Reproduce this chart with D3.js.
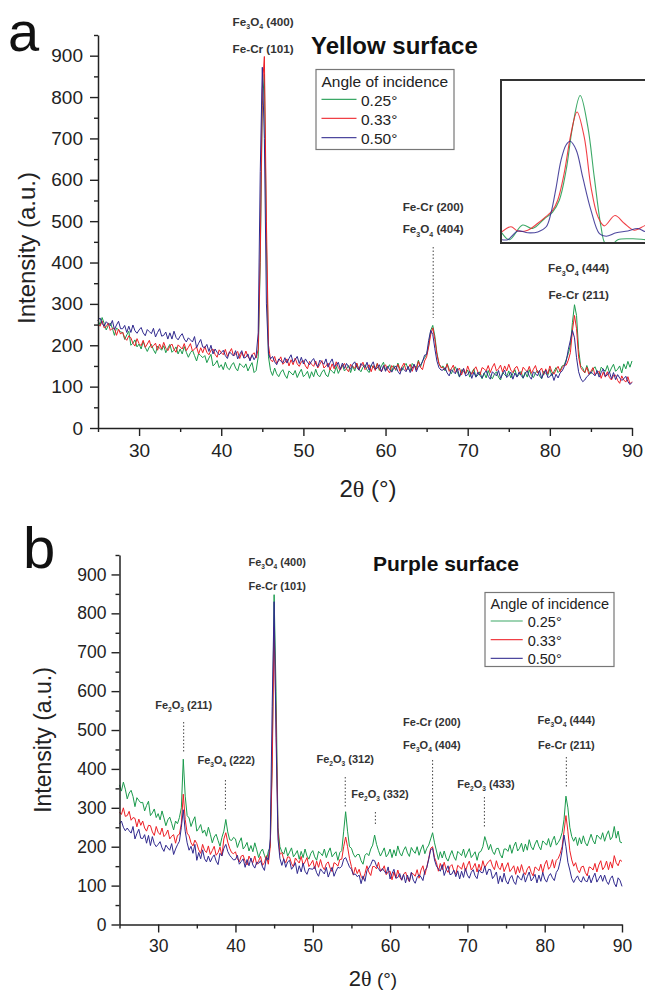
<!DOCTYPE html>
<html><head><meta charset="utf-8">
<script src="https://cdn.jsdelivr.net/npm/d3@7"></script>
<style>body{margin:0;background:#fff}svg{display:block}</style>
</head><body>
<svg id="c" width="645" height="990"></svg>
<script>
// ---------------- DATA ----------------
const seriesNames = ["0.25°", "0.33°", "0.50°"];
const yTickValues = [0, 100, 200, 300, 400, 500, 600, 700, 800, 900];
const xTickValues = [30, 40, 50, 60, 70, 80, 90];
// 2θ sampling grid: 25° to 90° every 0.25°
const twoTheta = d3.range(25, 90.001, 0.25);

// Panel a (Yellow surface)
const A_025 = [
261,249,267,253, 237,248,254,241, 224,242,237,232, 231,214,225,234, 200,205,213,196,
203,191,209,195, 185,196,202,189, 180,198,193,188, 199,182,193,202, 183,188,196,179,
191,179,197,183, 171,182,188,175, 162,180,175,170, 175,158,169,178, 150,155,163,146,
153,141,159,145, 141,152,158,145, 138,156,151,146, 155,138,149,158, 134,139,172,400,
780,855,450,172, 139,127,145,131, 124,135,141,128, 120,138,133,128, 139,122,133,142,
124,129,137,120, 136,124,142,128, 124,135,141,128, 124,142,137,132, 149,132,143,152,
138,143,151,134, 150,138,156,142, 136,147,153,140, 134,152,147,142, 156,139,150,159,
140,145,153,136, 151,139,157,143, 139,150,156,143, 138,156,151,146, 164,147,162,170,
178,200,236,248, 222,182,156,146, 150,138,156,142, 131,142,148,135, 123,141,136,131,
140,123,134,143, 123,128,136,119, 133,121,139,125, 119,130,136,123, 116,134,129,124,
138,121,132,141, 124,129,137,120, 135,123,141,127, 122,133,139,126, 119,137,132,127,
143,126,137,146, 134,139,150,152, 166,180,200,255, 298,272,190,150, 145,133,151,137,
131,142,148,135, 129,147,142,137, 151,134,145,154, 137,142,150,133, 155,143,161,147,
162];
const A_033 = [
251,246,259,242, 245,254,236,241, 241,224,239,227, 232,218,212,223, 218,205,198,216,
204,199,212,195, 203,212,194,199, 205,188,203,191, 207,193,187,198, 203,190,183,201,
196,191,204,187, 195,204,186,191, 196,179,194,182, 197,183,177,188, 191,178,171,189,
182,177,190,173, 183,192,174,179, 185,168,183,171, 186,172,166,177, 182,169,190,420,
820,898,500,200, 165,160,173,156, 163,172,154,159, 167,150,165,153, 169,155,149,160,
163,150,143,161, 154,149,162,145, 154,163,145,150, 157,140,155,143, 160,146,140,151,
156,143,136,154, 149,144,157,140, 150,159,141,146, 153,136,151,139, 156,142,136,147,
153,140,133,151, 146,141,154,137, 148,157,139,144, 154,137,152,140, 161,147,141,162,
172,196,226,242, 214,178,156,146, 146,141,154,137, 143,152,134,139, 145,128,143,131,
150,136,130,141, 148,135,128,146, 143,138,151,134, 147,156,138,143, 152,135,150,138,
154,140,134,145, 149,136,129,147, 141,136,149,132, 142,151,133,138, 145,128,143,131,
150,136,130,141, 149,136,146,152, 152,164,182,236, 272,240,172,146, 139,134,147,130,
137,146,128,133, 137,120,135,123, 136,122,116,127, 128,115,108,126, 116,111,124,107,
112];
const A_050 = [
260,266,253,246, 257,252,247,260, 238,249,258,240, 240,248,231,246, 231,249,235,229,
237,243,230,223, 238,233,228,241, 220,231,240,222, 224,232,215,230, 215,234,219,213,
222,228,215,208, 218,213,208,221, 194,205,214,196, 194,202,185,200, 179,191,183,177,
182,188,175,168, 184,179,174,187, 167,178,187,169, 171,179,162,177, 165,174,230,620,
872,700,300,180, 167,173,160,153, 167,162,157,170, 157,168,177,159, 165,173,156,171,
155,167,159,153, 162,168,155,148, 164,159,154,167, 147,158,167,149, 151,159,142,157,
144,156,148,142, 154,160,147,140, 156,151,146,159, 140,151,160,142, 145,153,136,151,
137,149,141,135, 144,150,137,130, 146,141,136,149, 134,145,154,136, 149,152,160,176,
178,212,236,226, 192,162,146,140, 140,146,133,126, 141,136,131,144, 124,135,144,126,
129,137,120,135, 123,135,127,121, 132,138,125,118, 136,131,126,139, 120,131,140,122,
127,135,118,133, 123,135,127,121, 132,138,125,118, 136,131,126,139, 120,131,140,122,
124,132,115,130, 121,133,138,148, 162,190,212,236, 218,170,136,120, 112,116,124,128,
136,131,126,139, 123,134,143,125, 128,136,119,134, 117,129,121,115, 119,125,112,105,
110];

// Panel b (Purple surface)
const B_025 = [
359,343,366,348, 323,338,345,329, 303,326,319,313, 314,292,306,317, 280,287,297,275,
285,269,292,274, 254,269,276,260, 243,266,259,275, 300,425,330,280, 274,252,266,277,
240,247,257,235, 243,227,250,232, 210,225,232,216, 201,224,240,270, 238,218,216,224,
220,198,212,223, 194,201,211,189, 203,187,210,192, 172,187,194,178, 165,188,200,420,
848,600,250,200, 187,181,198,176, 186,197,174,181, 190,168,188,172, 194,176,168,183,
190,174,165,188, 183,177,194,172, 186,197,174,181, 187,165,185,190, 240,290,240,200,
196,181,173,180, 180,164,155,178, 183,177,194,204, 230,206,190,176, 186,197,174,181,
194,172,192,176, 202,184,176,191, 200,184,175,198, 189,183,200,178, 194,205,182,196,
204,220,236,210, 189,167,187,171, 189,171,163,178, 190,174,165,188, 183,177,194,172,
184,195,172,179, 187,165,185,188, 200,226,210,192, 206,188,180,195, 196,180,171,194,
194,188,205,183, 201,212,189,196, 209,187,207,191, 218,200,192,207, 217,201,192,215,
210,204,221,199, 216,227,204,211, 220,236,270,330, 300,250,226,214, 225,203,223,207,
228,210,202,217, 232,216,207,230, 225,219,236,214, 230,241,218,225, 252,222,240,212,
210];
const B_033 = [
289,283,300,278, 280,291,268,275, 273,251,271,255, 266,248,240,255, 254,238,229,252,
237,231,248,226, 232,243,220,227, 231,209,229,232, 260,335,270,235, 228,210,202,217,
208,192,183,206, 191,185,202,180, 190,201,178,185, 199,177,220,236, 212,196,185,182,
187,169,161,176, 178,162,153,176, 165,159,176,154, 164,175,152,159, 177,155,200,400,
765,520,240,180, 185,167,159,174, 173,157,148,171, 164,158,175,153, 161,172,149,156,
165,143,163,147, 167,149,141,156, 161,145,136,159, 156,150,167,168, 200,225,200,170,
149,127,147,131, 142,124,116,131, 151,135,126,149, 149,143,160,138, 140,151,128,135,
137,115,135,119, 140,122,114,129, 135,119,110,133, 130,124,141,119, 140,151,128,148,
170,196,200,172, 159,137,157,141, 160,142,134,149, 154,138,129,152, 148,142,159,137,
152,163,140,147, 157,135,155,139, 164,146,155,162, 166,150,141,164, 147,141,158,136,
148,159,136,143, 151,129,149,133, 154,136,128,143, 150,134,125,148, 144,138,155,133,
154,165,142,149, 167,145,165,170, 182,200,240,280, 240,190,166,150, 159,141,133,148,
150,134,125,148, 146,140,157,135, 153,164,141,148, 163,141,161,145, 177,159,151,166,
162];
const B_050 = [
259,266,250,241, 248,241,235,252, 220,234,245,222, 221,231,209,229, 203,226,208,200,
206,213,197,188, 204,197,191,208, 180,194,205,214, 250,295,240,210, 191,201,183,206,
165,185,169,192, 169,161,176,161, 172,179,163,154, 183,176,196,206, 188,178,172,166,
167,178,155,162, 169,147,167,151, 171,153,145,160, 157,164,148,139, 173,166,220,560,
830,480,220,170, 152,169,147,161, 165,142,149,159, 131,151,135,158, 137,129,144,143,
142,149,133,124, 143,136,130,147, 122,136,147,124, 137,147,145,150, 168,172,160,148,
142,128,130,123, 127,105,125,111, 138,145,154,166, 164,150,144,136, 144,137,131,148,
117,131,142,119, 121,131,114,129, 107,127,111,134, 114,106,121,128, 122,113,138,146,
168,192,196,166, 150,143,137,154, 126,140,151,128, 130,140,123,138, 117,137,121,144,
127,119,134,141, 125,118,141,134, 133,150,128,142, 141,118,125,135, 105,125,109,132,
112,104,119,126, 110,103,126,119, 114,131,109,123, 135,112,119,129, 107,127,111,134,
117,109,124,131, 120,113,134,142, 162,190,230,200, 160,140,118,108, 118,125,113,109,
123,112,110,126, 107,121,132,109, 118,127,111,127, 111,103,118,125, 106,97,120,113,
98];

// Inset (zoom of the ~83° peak, panel a) — [2θ, intensity]
const INSET_025 = [[81.12,133],[81.31,125],[81.64,142],[81.89,138],[82.18,149],[82.39,157],[82.56,171],[82.73,206],[82.89,256],[83.08,292],[83.27,256],[83.43,198],[83.60,140],[83.70,121],[83.85,118],[84.02,125],[84.4,126],[84.73,125],[85.1,124]];
const INSET_033 = [[81.12,134],[81.35,140],[81.52,135],[81.77,136],[82.02,144],[82.23,152],[82.39,159],[82.52,171],[82.68,202],[82.85,248],[83.00,273],[83.18,244],[83.35,186],[83.52,152],[83.68,141],[83.95,153],[84.18,144],[84.43,136],[84.73,142],[85.1,146]];
const INSET_050 = [[81.12,125],[81.27,125],[81.52,135],[81.77,133],[82.02,134],[82.23,140],[82.35,156],[82.48,186],[82.60,217],[82.73,235],[82.83,239],[82.98,229],[83.14,198],[83.35,159],[83.56,132],[83.73,129],[83.98,133],[84.27,135],[84.52,138],[84.73,134],[85.1,133]];

// Peak annotations
const annotA = [
  {t:45.1, lines:[[["Fe",0],["3",1],["O",0],["4",1],[" (400)",0]], [["Fe-Cr (101)",0]]], dots:null},
  {t:65.8, lines:[[["Fe-Cr (200)",0]], [["Fe",0],["3",1],["O",0],["4",1],[" (404)",0]]], dots:[247,318]},
  {t:83.5, lines:[[["Fe",0],["3",1],["O",0],["4",1],[" (444)",0]], [["Fe-Cr (211)",0]]], dots:null}
];
const annotB = [
  {t:45.4, lines:[[["Fe",0],["3",1],["O",0],["4",1],[" (400)",0]], [["Fe-Cr (101)",0]]]},
  {t:33.3, lines:[[["Fe",0],["2",1],["O",0],["3",1],[" (211)",0]]]},
  {t:38.8, lines:[[["Fe",0],["3",1],["O",0],["4",1],[" (222)",0]]]},
  {t:54.2, lines:[[["Fe",0],["2",1],["O",0],["3",1],[" (312)",0]]]},
  {t:58.7, lines:[[["Fe",0],["2",1],["O",0],["3",1],[" (332)",0]]]},
  {t:65.4, lines:[[["Fe-Cr (200)",0]], [["Fe",0],["3",1],["O",0],["4",1],[" (404)",0]]]},
  {t:72.4, lines:[[["Fe",0],["2",1],["O",0],["3",1],[" (433)",0]]]},
  {t:82.8, lines:[[["Fe",0],["3",1],["O",0],["4",1],[" (444)",0]], [["Fe-Cr (211)",0]]]}
];
const dotsB = [ {t:33.3}, {t:38.7}, {t:54.2}, {t:58.1}, {t:65.5}, {t:72.2}, {t:82.8} ];

// ---------------- LAYOUT / STYLE ----------------
const colors = ["#1a9a4c", "#ee1f26", "#30298e"];
const FONT = "'Liberation Sans', Arial, Helvetica, sans-serif";
const ink = "#222";
const layoutA = { x0:98, x1:632, yBottom:428, yTop:35, tickFont:19, pad:7,
  labelYs:[[25.5,52.5],[210.7,233],[272,299]], labelFont:11.7 };
const layoutB = { x0:119.5, x1:622, yBottom:924.5, yTop:555, tickFont:17.5, pad:5,
  labelYs:[[566,590],[709],[764],[763],[798],[726,749],[788],[724,749]], labelFont:11,
  dotYs:[[722,752],[780,810],[777,808],[812,825],[760,830],[797,827],[757,787]] };

const svg = d3.select("#c");
svg.append("rect").attr("width",645).attr("height",990).attr("fill","#fff");

function makeScales(L){
  const x = d3.scaleLinear().domain([25, 90]).range([L.x0, L.x1]);
  const y = d3.scaleLinear().domain([0, 950]).range([L.yBottom, L.yTop]);
  return {x, y};
}

function drawAxes(L, s, xLabPad){
  const g = svg.append("g");
  const minorY = d3.range(50, 951, 100);
  const minorX = [25,35,45,55,65,75,85];
  g.append("g").attr("transform",`translate(${L.x0},0)`)
    .call(d3.axisLeft(s.y).tickValues(minorY).tickSize(4).tickFormat("").tickSizeOuter(0))
    .call(a=>a.select(".domain").remove());
  g.append("g").attr("transform",`translate(0,${L.yBottom})`)
    .call(d3.axisBottom(s.x).tickValues(minorX).tickSize(4).tickFormat("").tickSizeOuter(0))
    .call(a=>a.select(".domain").remove());
  g.append("g").attr("transform",`translate(${L.x0},0)`)
    .call(d3.axisLeft(s.y).tickValues(yTickValues).tickSize(8).tickPadding(L.pad).tickSizeOuter(0));
  g.append("g").attr("transform",`translate(0,${L.yBottom})`)
    .call(d3.axisBottom(s.x).tickValues(xTickValues).tickSize(8).tickPadding(xLabPad).tickSizeOuter(0));
  g.selectAll("line").attr("stroke", ink).attr("stroke-width",1.4);
  g.selectAll(".domain").attr("stroke", ink).attr("stroke-width",1.5);
  g.selectAll("text").attr("font-family",FONT).attr("font-size",L.tickFont).attr("fill",ink);
}

function drawSeries(s, arrays){
  const line = d3.line().x((d,i)=>s.x(twoTheta[i])).y(d=>s.y(d));
  arrays.forEach((arr,k)=>{
    svg.append("path").datum(arr).attr("d",line).attr("fill","none")
      .attr("stroke",colors[k]).attr("stroke-width",1).attr("stroke-linejoin","round");
  });
}

function richText(g, x, y, parts, size){
  const t = g.append("text").attr("x",x).attr("y",y).attr("text-anchor","middle")
    .attr("font-family",FONT).attr("font-weight","bold").attr("font-size",size).attr("fill","#333");
  let sub = false;
  parts.forEach(([str,isSub])=>{
    const ts = t.append("tspan").text(str);
    if(isSub && !sub){ ts.attr("dy", size*0.3).attr("font-size", size*0.6); sub=true; }
    else if(isSub){ ts.attr("font-size", size*0.6); }
    else if(!isSub && sub){ ts.attr("dy", -size*0.3); sub=false; }
  });
}

function drawLegend(x, y, w, h, titleSize, rowYs, lineX0, lineX1, textX, titleBase, textBase){
  const g = svg.append("g");
  g.append("rect").attr("x",x).attr("y",y).attr("width",w).attr("height",h)
    .attr("fill","#fff").attr("stroke","#777").attr("stroke-width",1.2);
  g.append("text").attr("x",x+5.5).attr("y",titleBase).text("Angle of incidence")
    .attr("font-family",FONT).attr("font-size",titleSize).attr("fill",ink);
  seriesNames.forEach((n,i)=>{
    g.append("line").attr("x1",lineX0).attr("x2",lineX1).attr("y1",rowYs[i]).attr("y2",rowYs[i])
      .attr("stroke",colors[i]).attr("stroke-width",1.2).attr("opacity",0.85);
    g.append("text").attr("x",textX).attr("y",textBase[i]).text(n)
      .attr("font-family",FONT).attr("font-size",titleSize).attr("fill",ink);
  });
}

// ---------------- PANEL A ----------------
const sA = makeScales(layoutA);
drawSeries(sA, [A_025, A_033, A_050]);
drawAxes(layoutA, sA, 7.5);
svg.append("text").attr("x",8).attr("y",51).text("a")
  .attr("font-family",FONT).attr("font-size",56).attr("fill","#111");
svg.append("text").attr("x",311).attr("y",54).text("Yellow surface")
  .attr("font-family",FONT).attr("font-weight","bold").attr("font-size",24).attr("fill","#111");
svg.append("text").attr("transform","translate(34.5,248) rotate(-90)").attr("text-anchor","middle")
  .text("Intensity (a.u.)").attr("font-family",FONT).attr("font-size",24).attr("fill",ink);
{
  const t = svg.append("text").attr("x",368).attr("y",497).attr("text-anchor","middle")
    .attr("font-family",FONT).attr("font-size",24).attr("fill",ink);
  t.append("tspan").text("2");
  t.append("tspan").text("θ").attr("font-family","'Liberation Serif', 'DejaVu Serif', serif");
  t.append("tspan").text(" (°)");
}
{
  const g = svg.append("g");
  annotA.forEach((a,i)=>{
    a.lines.forEach((ln,j)=> richText(g, sA.x(a.t), layoutA.labelYs[i][j], ln, layoutA.labelFont));
    if(a.dots){
      g.append("line").attr("x1",sA.x(a.t)).attr("x2",sA.x(a.t)).attr("y1",a.dots[0]).attr("y2",a.dots[1])
        .attr("stroke","#444").attr("stroke-width",1).attr("stroke-dasharray","1.5,2");
    }
  });
}
drawLegend(316, 69.5, 138, 80, 15.5, [99.3,118.3,137.7], 321.5, 356.5, 361, 87, [106,125,144]);

// inset
{
  const ix = d3.scaleLinear().domain([81.1, 85.1]).range([501, 661]);
  const iy = d3.scaleLinear().domain([120, 310]).range([244, 80]);
  const g = svg.append("g");
  g.append("rect").attr("x",501).attr("y",80).attr("width",170).attr("height",163)
    .attr("fill","#fff").attr("stroke","#333").attr("stroke-width",2);
  svg.append("clipPath").attr("id","ic").append("rect").attr("x",502).attr("y",81).attr("width",170).attr("height",161);
  const l = d3.line().x(d=>ix(d[0])).y(d=>iy(d[1])).curve(d3.curveCatmullRom.alpha(0.5));
  [INSET_025, INSET_033, INSET_050].forEach((arr,k)=>{
    g.append("path").datum(arr).attr("d",l).attr("fill","none").attr("clip-path","url(#ic)")
      .attr("stroke",colors[k]).attr("stroke-width",1.1).attr("opacity",0.85);
  });
}

// ---------------- PANEL B ----------------
const sB = makeScales(layoutB);
drawSeries(sB, [B_025, B_033, B_050]);
drawAxes(layoutB, sB, 7);
svg.append("text").attr("x",23).attr("y",568).text("b")
  .attr("font-family",FONT).attr("font-size",58).attr("fill","#111");
svg.append("text").attr("x",373).attr("y",571).text("Purple surface")
  .attr("font-family",FONT).attr("font-weight","bold").attr("font-size",21).attr("fill","#111");
svg.append("text").attr("transform","translate(51,740) rotate(-90)").attr("text-anchor","middle")
  .text("Intensity (a.u.)").attr("font-family",FONT).attr("font-size",23).attr("fill",ink);
{
  const t = svg.append("text").attr("x",373).attr("y",986).attr("text-anchor","middle")
    .attr("font-family",FONT).attr("font-size",22).attr("fill",ink);
  t.append("tspan").text("2");
  t.append("tspan").text("θ").attr("font-family","'Liberation Serif', 'DejaVu Serif', serif");
  t.append("tspan").text(" (°)").attr("font-size",19);
}
{
  const g = svg.append("g");
  annotB.forEach((a,i)=>{
    a.lines.forEach((ln,j)=> richText(g, sB.x(a.t), layoutB.labelYs[i][j], ln, layoutB.labelFont));
  });
  dotsB.forEach((d,i)=>{
    g.append("line").attr("x1",sB.x(d.t)).attr("x2",sB.x(d.t))
      .attr("y1",layoutB.dotYs[i][0]).attr("y2",layoutB.dotYs[i][1])
      .attr("stroke","#444").attr("stroke-width",1).attr("stroke-dasharray","1.5,2");
  });
}
drawLegend(485, 592.5, 129, 74, 14.5, [621,639.7,658.3], 490.7, 522.7, 527.7, 608.5, [627,645.5,664]);
</script>
</body></html>
